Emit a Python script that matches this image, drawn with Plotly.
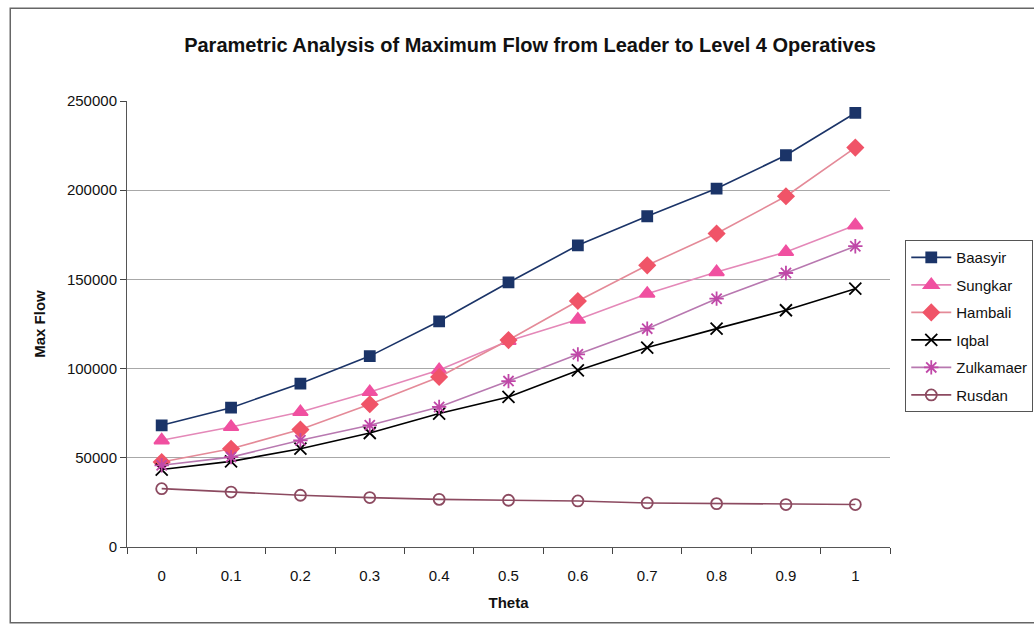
import plotly.graph_objects as go

theta = ["0", "0.1", "0.2", "0.3", "0.4", "0.5", "0.6", "0.7", "0.8", "0.9", "1"]

baasyir = [68200, 78100, 91600, 107000, 126500, 148300, 169100, 185400, 200900, 219600, 243300]
sungkar = [59800, 67300, 75700, 86900, 99200, 115500, 127500, 142000, 154100, 165400, 180300]
hambali = [47600, 55100, 65800, 80000, 95300, 116000, 137900, 157900, 175700, 196600, 223900]
iqbal = [43400, 48000, 55100, 63900, 74800, 84100, 99000, 111800, 122400, 132700, 144800]
zulkamaer = [45800, 50400, 59800, 68200, 78500, 93000, 108000, 122400, 139200, 153600, 168600]
rusdan = [32700, 30800, 29000, 27700, 26700, 26200, 25800, 24700, 24300, 23800, 23800]

series = [
    ("Baasyir", baasyir, "#1B3468", "#1B3468", "square", 10),
    ("Sungkar", sungkar, "#E488B8", "#F050A0", "triangle-up", 13),
    ("Hambali", hambali, "#E48A98", "#F05468", "diamond", 12),
    ("Iqbal", iqbal, "#000000", "#000000", "x-thin-open", 12),
    ("Zulkamaer", zulkamaer, "#B878B0", "#C048A8", "asterisk-open", 12),
    ("Rusdan", rusdan, "#8C4A60", "#8C4A60", "circle-open", 11),
]

fig = go.Figure()
for name, vals, lc, mc, sym, sz in series:
    fig.add_trace(go.Scatter(
        x=theta, y=vals, name=name, mode="lines+markers",
        legendgroup=name,
        line=dict(color=lc, width=1.6),
        marker=dict(symbol=sym, size=sz, color=mc,
                    line=dict(color=mc, width=1.8)),
    ))

fig.update_layout(
    width=1034, height=630,
    margin=dict(l=127, r=144, t=101, b=83, autoexpand=False),
    paper_bgcolor="white", plot_bgcolor="white",
    font=dict(family="Arial, Liberation Sans, sans-serif", size=12, color="#111111"),
    title=dict(text="<b>Parametric Analysis of Maximum Flow from Leader to Level 4 Operatives</b>",
               x=0.5126, xref="container", xanchor="center", y=0.928, yanchor="middle",
               font=dict(size=20, color="#111111")),
    showlegend=True,
    legend=dict(x=1.02, xanchor="left", y=0.688, yanchor="top",
                bordercolor="#555555", borderwidth=1, bgcolor="white",
                font=dict(size=15), tracegroupgap=5, itemwidth=40),
    shapes=[dict(type="rect", xref="paper", yref="paper",
                 x0=-0.153, x1=1.25, y0=-0.17, y1=1.208,
                 line=dict(color="#666666", width=1.5))],
)

fig.update_xaxes(
    type="category", tickson="boundaries", range=[-0.5, 10.5],
    ticks="outside", ticklen=6, ticklabelstandoff=15,
    showline=True, linecolor="#555555", linewidth=1,
    showgrid=False, tickfont=dict(size=15),
    title=dict(text="<b>Theta</b>", font=dict(size=15), standoff=14),
)
fig.update_yaxes(
    range=[0, 250000], tickvals=[0, 50000, 100000, 150000, 200000, 250000],
    ticktext=["0", "50000", "100000", "150000", "200000", "250000"],
    ticks="outside", ticklen=6, showline=True, linecolor="#555555", linewidth=1,
    showgrid=True, gridcolor="#A8A8A8", gridwidth=1, zeroline=False,
    tickfont=dict(size=15),
    title=dict(text="<b>Max Flow</b>", font=dict(size=15), standoff=17),
)

fig.write_html("out.html")
